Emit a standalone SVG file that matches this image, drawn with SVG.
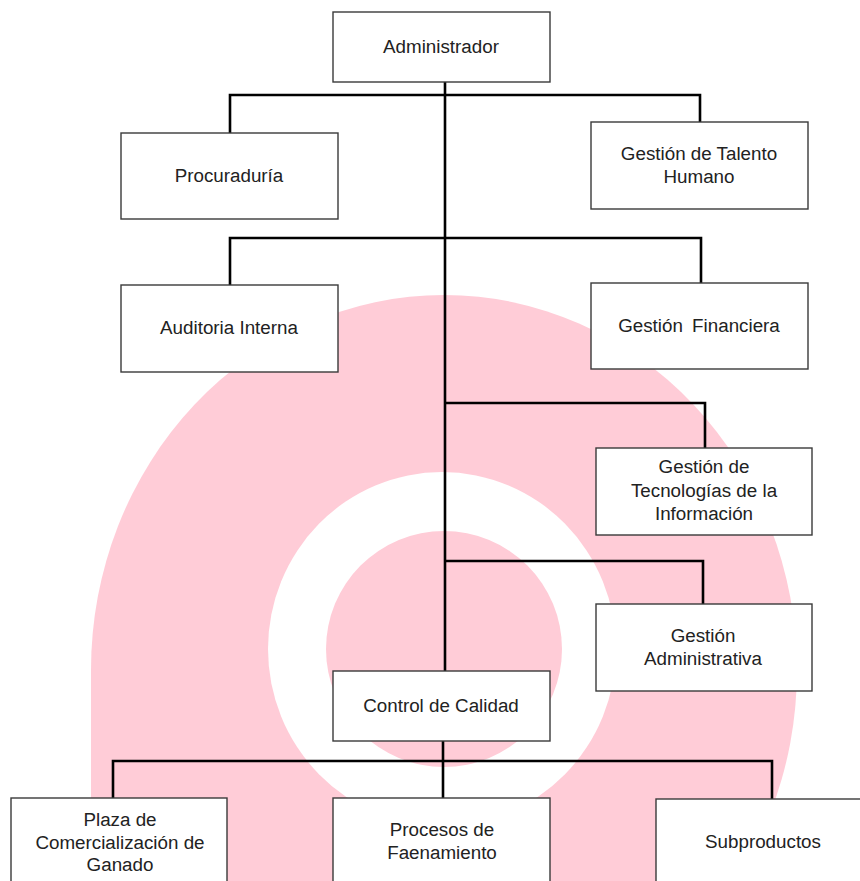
<svg xmlns="http://www.w3.org/2000/svg" width="860" height="881" viewBox="0 0 860 881">
<style>
.bg{fill:#FFCCD7}
.box{fill:#fff;stroke:#3a3a3a;stroke-width:1.4}
.conn{fill:none;stroke:#000;stroke-width:2.6;stroke-linejoin:miter}
text{font-family:"Liberation Sans",Arial,sans-serif;font-size:18.8px;fill:#222;text-anchor:middle}
</style>
<rect width="860" height="881" fill="#fff"/>
<g id="background">
<ellipse class="bg" cx="444" cy="670" rx="353" ry="375"/>
<rect class="bg" x="91" y="670" width="353" height="211"/>
<ellipse cx="442" cy="649" rx="174" ry="177" fill="#fff"/>
<circle class="bg" cx="444" cy="649" r="118"/>
</g>
<g id="connectors">
<path class="conn" d="M445 82 V671"/>
<path class="conn" d="M230 133 V95 H700 V122"/>
<path class="conn" d="M230 285 V238 H701 V283"/>
<path class="conn" d="M445 403 H705 V448"/>
<path class="conn" d="M445 561 H703 V604"/>
<path class="conn" d="M443 741 V798"/>
<path class="conn" d="M113 798 V761 H772 V799"/>
</g>
<g id="administrador"><rect class="box" x="333" y="12" width="217" height="70"/><text x="441" y="53">Administrador</text></g>
<g id="procuraduria"><rect class="box" x="121" y="133" width="217" height="86"/><text x="229" y="182">Procuraduría</text></g>
<g id="talento"><rect class="box" x="591" y="122" width="217" height="87"/><text x="699" y="160">Gestión de Talento</text><text x="699" y="183">Humano</text></g>
<g id="auditoria"><rect class="box" x="121" y="285" width="217" height="87"/><text x="229" y="334">Auditoria Interna</text></g>
<g id="financiera"><rect class="box" x="591" y="283" width="217" height="86"/><text x="699" y="332" word-spacing="4">Gestión Financiera</text></g>
<g id="tecnologias"><rect class="box" x="596" y="448" width="216" height="87"/><text x="704" y="473">Gestión de</text><text x="704" y="497">Tecnologías de la</text><text x="704" y="520">Información</text></g>
<g id="administrativa"><rect class="box" x="596" y="604" width="216" height="87"/><text x="703" y="642">Gestión</text><text x="703" y="665">Administrativa</text></g>
<g id="calidad"><rect class="box" x="333" y="671" width="217" height="70"/><text x="441" y="712">Control de Calidad</text></g>
<g id="plaza"><rect class="box" x="11" y="798" width="216" height="90"/><text x="120" y="826">Plaza de</text><text x="120" y="849">Comercialización de</text><text x="120" y="871">Ganado</text></g>
<g id="procesos"><rect class="box" x="333" y="798" width="217" height="90"/><text x="442" y="836">Procesos de</text><text x="442" y="859">Faenamiento</text></g>
<g id="subproductos"><rect class="box" x="656" y="799" width="217" height="90"/><text x="763" y="848">Subproductos</text></g>
</svg>
